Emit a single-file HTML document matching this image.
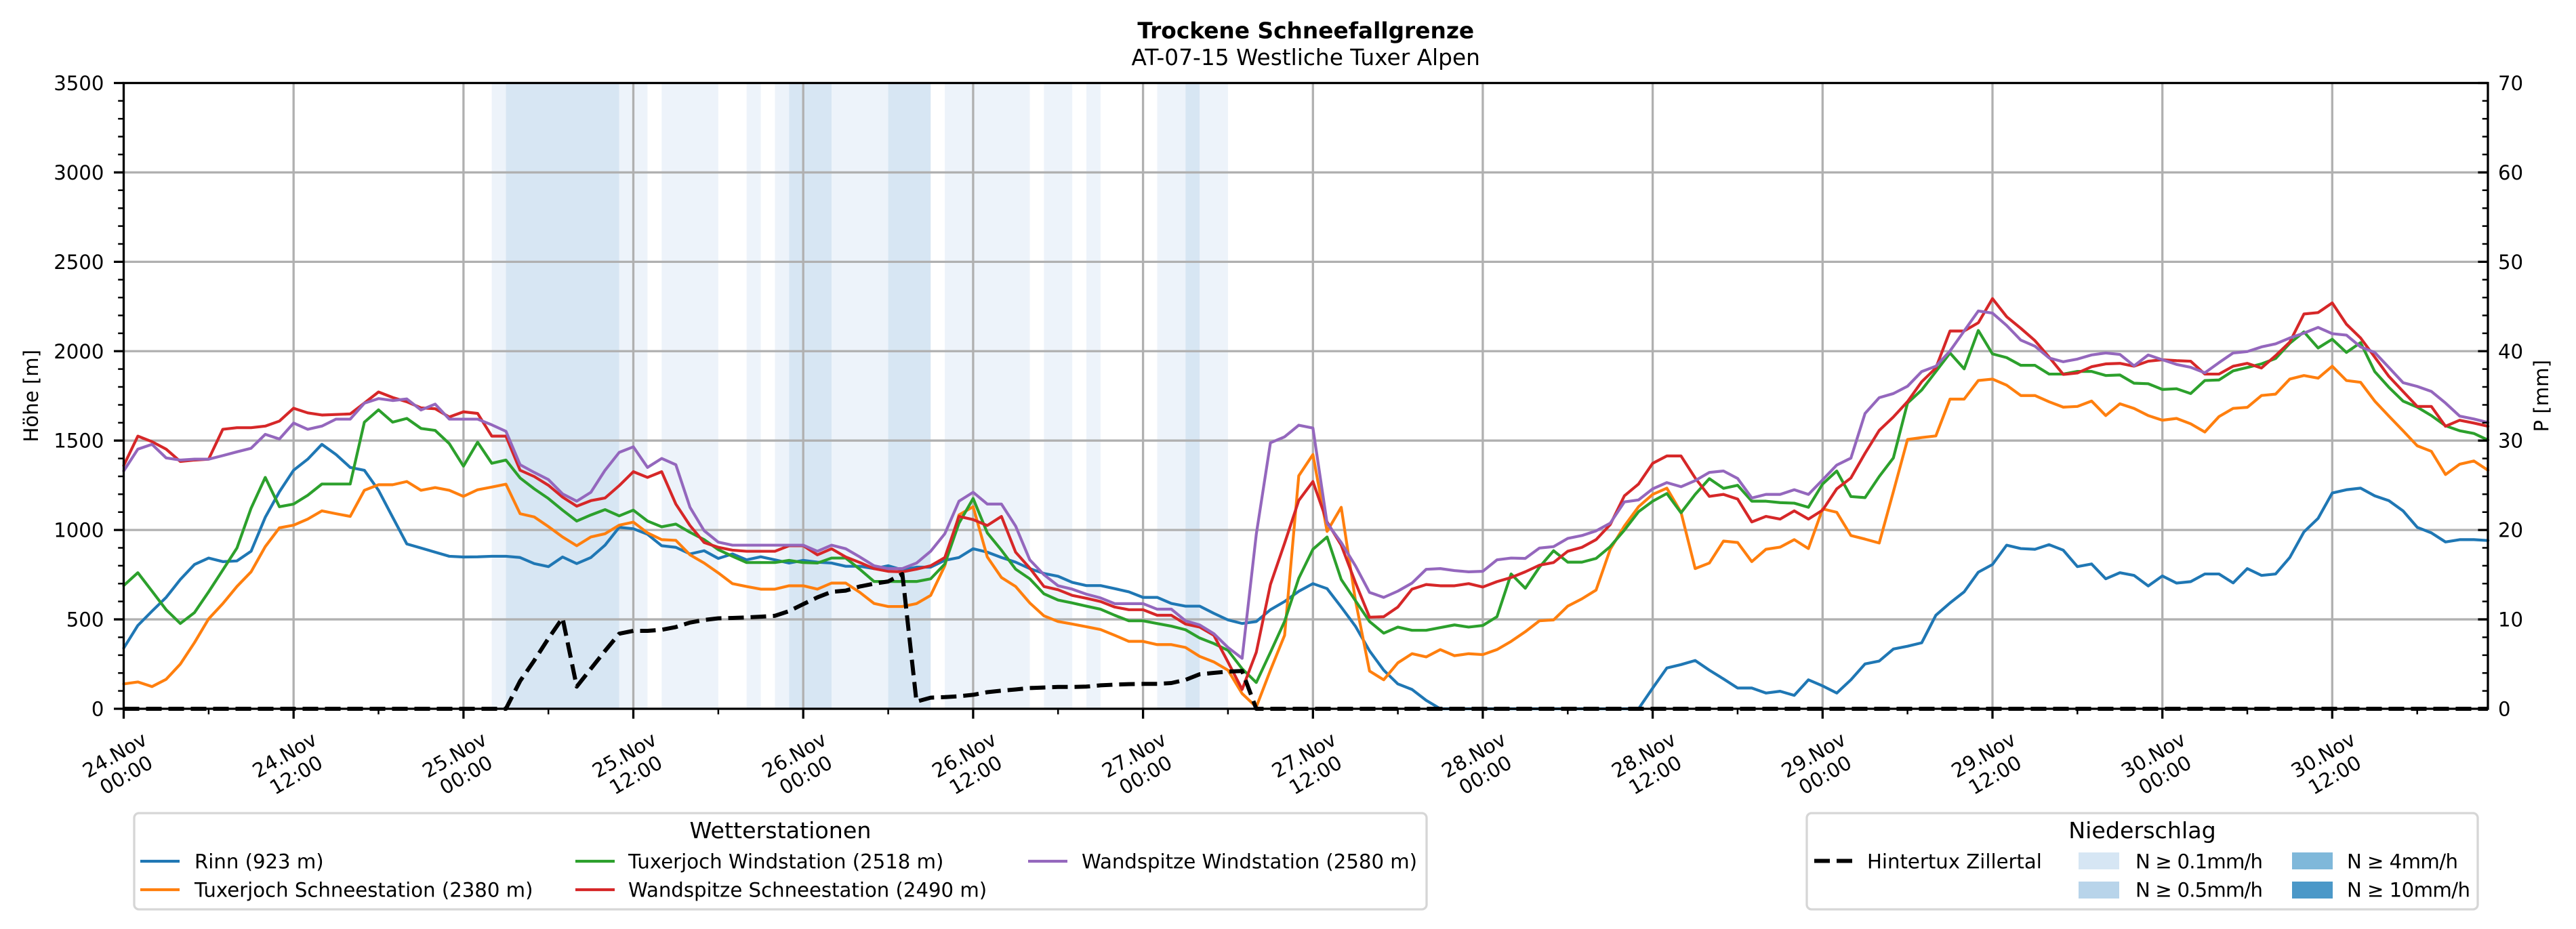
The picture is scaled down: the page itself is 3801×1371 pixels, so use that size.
<!DOCTYPE html>
<html>
<head>
<meta charset="utf-8">
<style>
html,body{margin:0;padding:0;background:#fff;}
svg{display:block;}
text{font-family:"DejaVu Sans","Liberation Sans",sans-serif;fill:#000;}
.tk{font-size:29.17px;}
.lg{font-size:29.17px;}
</style>
</head>
<body>
<svg width="3801" height="1371" viewBox="0 0 3801 1371" xmlns="http://www.w3.org/2000/svg">
<rect x="0" y="0" width="3801" height="1371" fill="#fff"/>

<!-- Title -->
<text x="1926.75" y="56.7" text-anchor="middle" font-size="32.8" font-weight="bold">Trockene Schneefallgrenze</text>
<text x="1926.75" y="96" text-anchor="middle" font-size="32.8">AT-07-15 Westliche Tuxer Alpen</text>

<!-- Precipitation bands (data coords) -->
<g transform="translate(182.5,1046) scale(20.89,-0.26386)">
  <g fill="#edf3fa">
    <rect x="26" y="0" width="1" height="3500"/>
    <rect x="35" y="0" width="2" height="3500"/>
    <rect x="38" y="0" width="4" height="3500"/>
    <rect x="44" y="0" width="1" height="3500"/>
    <rect x="46" y="0" width="1" height="3500"/>
    <rect x="50" y="0" width="4" height="3500"/>
    <rect x="58" y="0" width="6" height="3500"/>
    <rect x="65" y="0" width="2" height="3500"/>
    <rect x="68" y="0" width="1" height="3500"/>
    <rect x="73" y="0" width="2" height="3500"/>
    <rect x="76" y="0" width="2" height="3500"/>
  </g>
  <g fill="#d7e6f3">
    <rect x="27" y="0" width="8" height="3500"/>
    <rect x="47" y="0" width="3" height="3500"/>
    <rect x="54" y="0" width="3" height="3500"/>
    <rect x="75" y="0" width="1" height="3500"/>
  </g>
</g>

<!-- Grid -->
<g stroke="#b0b0b0" stroke-width="3.3" fill="none">
  <path d="M433.2,122.5V1046 M683.9,122.5V1046 M934.5,122.5V1046 M1185.2,122.5V1046 M1435.9,122.5V1046 M1686.6,122.5V1046 M1937.3,122.5V1046 M2187.9,122.5V1046 M2438.6,122.5V1046 M2689.3,122.5V1046 M2940,122.5V1046 M3190.7,122.5V1046 M3441.3,122.5V1046"/>
  <path d="M182.5,914.07H3671 M182.5,782.14H3671 M182.5,650.21H3671 M182.5,518.28H3671 M182.5,386.35H3671 M182.5,254.42H3671"/>
</g>

<!-- Data lines -->
<g transform="translate(182.5,1046) scale(20.89,-0.26386)" fill="none" stroke-width="4.2" stroke-linejoin="round" stroke-linecap="round">
<polyline vector-effect="non-scaling-stroke" stroke="#1f77b4" points="0,339 1,466 2,546 3,623 4,723 5,807 6,843 7,823 8,827 9,881 10,1071 11,1214 12,1334 13,1396 14,1479 15,1422 16,1350 17,1334 18,1222 19,1071 20,922 21,899 22,876 23,853 24,849 25,850 26,853 27,853 28,846 29,812 30,795 31,849 32,812 33,846 34,915 35,1015 36,1007 37,976 38,912 39,903 40,866 41,884 42,841 43,866 44,833 45,850 46,833 47,815 48,830 49,820 50,815 51,797 52,797 53,784 54,800 55,777 56,792 57,792 58,830 59,846 60,895 61,876 62,846 63,820 64,784 65,757 66,741 67,707 68,689 69,689 70,672 71,654 72,623 73,623 74,589 75,574 76,574 77,534 78,497 79,477 80,488 81,554 82,600 83,657 84,700 85,672 86,569 87,462 88,324 89,216 90,139 91,108 92,47 93,0 107,0 108,116 109,228 110,247 111,270 112,216 113,167 114,116 115,116 116,88 117,98 118,75 119,162 120,128 121,88 122,162 123,251 124,267 125,334 126,350 127,369 128,523 129,592 130,654 131,764 132,807 133,915 134,896 135,892 136,918 137,887 138,795 139,810 140,727 141,761 142,746 143,687 144,743 145,703 146,711 147,754 148,754 149,704 150,784 151,746 152,754 153,846 154,989 155,1065 156,1207 157,1225 158,1234 159,1191 160,1164 161,1107 162,1015 163,984 164,933 165,946 166,946 167,941"/>
<polyline vector-effect="non-scaling-stroke" stroke="#ff7f0e" points="0,139 1,150 2,124 3,165 4,250 5,370 6,503 7,588 8,684 9,766 10,907 11,1012 12,1027 13,1061 14,1107 15,1091 16,1076 17,1222 18,1253 19,1253 20,1271 21,1222 22,1237 23,1222 24,1188 25,1225 26,1240 27,1256 28,1091 29,1073 30,1019 31,961 32,912 33,961 34,979 35,1027 36,1044 37,984 38,946 39,942 40,861 41,815 42,760 43,700 44,684 45,669 46,669 47,688 48,688 49,669 50,703 51,703 52,651 53,589 54,572 55,572 56,588 57,634 58,800 59,1084 60,1130 61,849 62,734 63,684 64,592 65,520 66,488 67,474 68,459 69,443 70,411 71,377 72,377 73,359 74,359 75,343 76,293 77,262 78,216 79,85 80,10 81,216 82,411 83,1303 84,1422 85,992 86,1127 87,608 88,211 89,162 90,257 91,308 92,290 93,331 94,297 95,308 96,303 97,331 98,377 99,431 100,492 101,497 102,574 103,615 104,664 105,892 106,1022 107,1130 108,1199 109,1234 110,1099 111,784 112,815 113,938 114,930 115,823 116,892 117,904 118,946 119,896 120,1118 121,1099 122,969 123,949 124,927 125,1214 126,1506 127,1517 128,1526 129,1732 130,1732 131,1836 132,1844 133,1810 134,1752 135,1752 136,1717 137,1687 138,1691 139,1721 140,1640 141,1706 142,1680 143,1640 144,1614 145,1624 146,1594 147,1548 148,1634 149,1680 150,1686 151,1752 152,1760 153,1844 154,1864 155,1849 156,1916 157,1836 158,1826 159,1721 160,1637 161,1555 162,1471 163,1440 164,1310 165,1368 166,1386 167,1334"/>
<polyline vector-effect="non-scaling-stroke" stroke="#2ca02c" points="0,689 1,761 2,658 3,554 4,477 5,538 6,654 7,776 8,899 9,1122 10,1294 11,1130 12,1145 13,1194 14,1257 15,1257 16,1257 17,1603 18,1672 19,1603 20,1624 21,1568 22,1557 23,1483 24,1357 25,1491 26,1373 27,1391 28,1291 29,1230 30,1176 31,1111 32,1050 33,1084 34,1114 35,1079 36,1111 37,1050 38,1018 39,1033 40,987 41,946 42,890 43,853 44,818 45,818 46,818 47,830 48,818 49,815 50,843 51,843 52,780 53,712 54,712 55,712 56,712 57,727 58,810 59,1038 60,1176 61,984 62,887 63,781 64,727 65,643 66,608 67,592 68,574 69,557 70,523 71,492 72,492 73,477 74,462 75,442 76,396 77,365 78,327 79,224 80,147 81,316 82,489 83,730 84,892 85,961 86,723 87,605 88,488 89,423 90,457 91,439 92,439 93,454 94,469 95,457 96,466 97,515 98,754 99,674 100,792 101,884 102,820 103,820 104,841 105,907 106,999 107,1102 108,1161 109,1204 110,1096 111,1199 112,1287 113,1233 114,1250 115,1161 116,1161 117,1153 118,1150 119,1127 120,1257 121,1330 122,1187 123,1181 124,1299 125,1403 126,1710 127,1783 128,1886 129,1990 130,1901 131,2116 132,1985 133,1964 134,1921 135,1921 136,1872 137,1872 138,1887 139,1887 140,1864 141,1867 142,1821 143,1818 144,1786 145,1790 146,1763 147,1836 148,1839 149,1890 150,1909 151,1929 152,1959 153,2044 154,2108 155,2018 156,2067 157,1993 158,2048 159,1886 160,1798 161,1721 162,1687 163,1640 164,1583 165,1555 166,1540 167,1503"/>
<polyline vector-effect="non-scaling-stroke" stroke="#d62728" points="0,1360 1,1525 2,1494 3,1452 4,1383 5,1391 6,1396 7,1563 8,1572 9,1572 10,1581 11,1609 12,1681 13,1655 14,1643 15,1646 16,1649 17,1710 18,1772 19,1741 20,1717 21,1683 22,1678 23,1632 24,1661 25,1652 26,1525 27,1525 28,1334 29,1299 30,1250 31,1184 32,1133 33,1164 34,1179 35,1248 36,1326 37,1294 38,1326 39,1145 40,1025 41,930 42,903 43,887 44,881 45,881 46,881 47,912 48,912 49,861 50,895 51,849 52,818 53,784 54,769 55,766 56,781 57,800 58,846 59,1076 60,1058 61,1025 62,1076 63,876 64,787 65,684 66,666 67,634 68,618 69,600 70,569 71,554 72,554 73,523 74,523 75,474 76,457 77,411 78,262 79,108 80,316 81,695 82,926 83,1165 84,1271 85,1045 86,915 87,707 88,512 89,515 90,569 91,669 92,695 93,688 94,688 95,700 96,681 97,711 98,734 99,766 100,803 101,818 102,881 103,903 104,946 105,1030 106,1191 107,1257 108,1373 109,1414 110,1414 111,1291 112,1188 113,1199 114,1173 115,1045 116,1076 117,1061 118,1107 119,1061 120,1111 121,1230 122,1291 123,1429 124,1557 125,1632 126,1718 127,1829 128,1906 129,2113 130,2113 131,2159 132,2294 133,2193 134,2128 135,2059 136,1967 137,1870 138,1878 139,1913 140,1929 141,1932 142,1916 143,1944 144,1952 145,1947 146,1944 147,1872 148,1872 149,1916 150,1932 151,1906 152,1975 153,2051 154,2208 155,2216 156,2270 157,2151 158,2074 159,1967 160,1859 161,1775 162,1691 163,1691 164,1580 165,1614 166,1598 167,1580"/>
<polyline vector-effect="non-scaling-stroke" stroke="#9467bd" points="0,1330 1,1452 2,1479 3,1403 4,1391 5,1396 6,1396 7,1416 8,1437 9,1457 10,1535 11,1509 12,1598 13,1563 14,1581 15,1620 16,1620 17,1709 18,1735 19,1724 20,1733 21,1671 22,1704 23,1620 24,1620 25,1620 26,1588 27,1552 28,1365 29,1322 30,1282 31,1202 32,1161 33,1211 34,1334 35,1434 36,1465 37,1350 38,1400 39,1365 40,1127 41,996 42,932 43,915 44,915 45,915 46,915 47,915 48,915 49,881 50,915 51,895 52,849 53,800 54,784 55,784 56,815 57,881 58,979 59,1161 60,1211 61,1145 62,1145 63,1022 64,833 65,750 66,688 67,669 68,641 69,620 70,588 71,588 72,588 73,557 74,557 75,492 76,469 77,420 78,343 79,282 80,976 81,1488 82,1521 83,1586 84,1570 85,1038 86,930 87,800 88,651 89,623 90,658 91,703 92,780 93,784 94,773 95,766 96,769 97,833 98,843 99,841 100,899 101,907 102,953 103,969 104,995 105,1038 106,1157 107,1168 108,1230 109,1265 110,1242 111,1276 112,1322 113,1330 114,1288 115,1179 116,1199 117,1199 118,1225 119,1199 120,1280 121,1363 122,1402 123,1652 124,1740 125,1763 126,1804 127,1886 128,1916 129,2001 130,2113 131,2225 132,2213 133,2144 134,2062 135,2028 136,1962 137,1941 138,1956 139,1979 140,1990 141,1982 142,1918 143,1979 144,1952 145,1926 146,1910 147,1879 148,1936 149,1990 150,1998 151,2024 152,2041 153,2074 154,2101 155,2133 156,2098 157,2090 158,2024 159,1993 160,1909 161,1824 162,1803 163,1775 164,1710 165,1637 166,1621 167,1601"/>
</g>

<!-- Hintertux dashed (pixel coords) -->
<polyline fill="none" stroke="#000" stroke-width="6" stroke-dasharray="23 10" stroke-linejoin="round" points="182.5,1046 746.5,1046 767.4,1005.1 788.3,974.8 809.2,942.3 830.1,912 851,1013.3 871.9,986.9 892.8,960.5 913.7,935.2 934.5,931 955.4,931 976.3,929.4 997.2,925.4 1018.1,918.8 1039,914.9 1059.9,912.5 1080.8,912 1101.7,911.2 1122.6,910.1 1143.4,908.8 1164.3,901.9 1185.2,891.6 1206.1,881.6 1227,873.4 1247.9,871.6 1268.8,865.5 1289.7,861.3 1310.6,858.1 1331.5,847.1 1352.3,1035.4 1373.2,1029.6 1394.1,1028.8 1415,1027.5 1435.9,1025.4 1456.8,1021.5 1477.7,1019.3 1498.6,1017.5 1519.5,1015.4 1540.4,1014.6 1561.2,1013.8 1582.1,1013.8 1603,1013.3 1623.9,1011.4 1644.8,1010.4 1665.7,1009.6 1686.6,1009.3 1707.5,1009.3 1728.4,1008 1749.3,1003.3 1770.1,995.1 1791,993 1811.9,991.1 1832.8,990.3 1853.7,1046 3671,1046"/>

<!-- Spines -->
<rect x="182.5" y="122.5" width="3488.5" height="923.5" fill="none" stroke="#000" stroke-width="3.3"/>

<!-- Ticks -->
<g stroke="#000" fill="none">
  <path stroke-width="3.3" d="M168,1046H182.5 M168,914.07H182.5 M168,782.14H182.5 M168,650.21H182.5 M168,518.28H182.5 M168,386.35H182.5 M168,254.42H182.5 M168,122.5H182.5"/>
  <path stroke-width="2.5" d="M174.2,1019.61H182.5 M174.2,993.23H182.5 M174.2,966.84H182.5 M174.2,940.46H182.5 M174.2,887.68H182.5 M174.2,861.3H182.5 M174.2,834.91H182.5 M174.2,808.53H182.5 M174.2,755.75H182.5 M174.2,729.37H182.5 M174.2,702.98H182.5 M174.2,676.6H182.5 M174.2,623.82H182.5 M174.2,597.44H182.5 M174.2,571.05H182.5 M174.2,544.67H182.5 M174.2,491.89H182.5 M174.2,465.51H182.5 M174.2,439.12H182.5 M174.2,412.74H182.5 M174.2,359.96H182.5 M174.2,333.58H182.5 M174.2,307.19H182.5 M174.2,280.81H182.5 M174.2,228.03H182.5 M174.2,201.65H182.5 M174.2,175.26H182.5 M174.2,148.88H182.5"/>
  <path stroke-width="3.3" d="M3656.4,1046H3671 M3656.4,914.07H3671 M3656.4,782.14H3671 M3656.4,650.21H3671 M3656.4,518.28H3671 M3656.4,386.35H3671 M3656.4,254.42H3671 M3656.4,122.5H3671"/>
  <path stroke-width="2.5" d="M3662.7,1019.61H3671 M3662.7,993.23H3671 M3662.7,966.84H3671 M3662.7,940.46H3671 M3662.7,887.68H3671 M3662.7,861.3H3671 M3662.7,834.91H3671 M3662.7,808.53H3671 M3662.7,755.75H3671 M3662.7,729.37H3671 M3662.7,702.98H3671 M3662.7,676.6H3671 M3662.7,623.82H3671 M3662.7,597.44H3671 M3662.7,571.05H3671 M3662.7,544.67H3671 M3662.7,491.89H3671 M3662.7,465.51H3671 M3662.7,439.12H3671 M3662.7,412.74H3671 M3662.7,359.96H3671 M3662.7,333.58H3671 M3662.7,307.19H3671 M3662.7,280.81H3671 M3662.7,228.03H3671 M3662.7,201.65H3671 M3662.7,175.26H3671 M3662.7,148.88H3671"/>
  <path stroke-width="3.3" d="M182.5,1046V1060.6 M433.2,1046V1060.6 M683.9,1046V1060.6 M934.5,1046V1060.6 M1185.2,1046V1060.6 M1435.9,1046V1060.6 M1686.6,1046V1060.6 M1937.3,1046V1060.6 M2187.9,1046V1060.6 M2438.6,1046V1060.6 M2689.3,1046V1060.6 M2940,1046V1060.6 M3190.7,1046V1060.6 M3441.3,1046V1060.6"/>
  <path stroke-width="2.5" d="M307.9,1046V1054.3 M558.5,1046V1054.3 M809.2,1046V1054.3 M1059.9,1046V1054.3 M1310.6,1046V1054.3 M1561.2,1046V1054.3 M1811.9,1046V1054.3 M2062.6,1046V1054.3 M2313.3,1046V1054.3 M2563.9,1046V1054.3 M2814.6,1046V1054.3 M3065.3,1046V1054.3 M3316,1046V1054.3 M3566.7,1046V1054.3"/>
</g>

<!-- Left tick labels -->
<g class="tk" text-anchor="end">
  <text x="153.4" y="1056.5">0</text>
  <text x="153.4" y="924.6">500</text>
  <text x="153.4" y="792.6">1000</text>
  <text x="153.4" y="660.7">1500</text>
  <text x="153.4" y="528.8">2000</text>
  <text x="153.4" y="396.9">2500</text>
  <text x="153.4" y="264.9">3000</text>
  <text x="153.4" y="133">3500</text>
</g>
<!-- Right tick labels -->
<g class="tk" text-anchor="start">
  <text x="3686" y="1056.5">0</text>
  <text x="3686" y="924.6">10</text>
  <text x="3686" y="792.6">20</text>
  <text x="3686" y="660.7">30</text>
  <text x="3686" y="528.8">40</text>
  <text x="3686" y="396.9">50</text>
  <text x="3686" y="264.9">60</text>
  <text x="3686" y="133">70</text>
</g>

<!-- Axis labels -->
<text class="tk" transform="translate(56,584.25) rotate(-90)" text-anchor="middle">Höhe [m]</text>
<text class="tk" transform="translate(3760,584.25) rotate(-90)" text-anchor="middle">P [mm]</text>

<!-- X tick labels -->
<g class="tk" text-anchor="middle">
  <g transform="translate(177.5,1128.5) rotate(-30)"><text><tspan x="0" y="-6.35">24.Nov</tspan><tspan x="0" y="27.65">00:00</tspan></text></g>
  <g transform="translate(428.2,1128.5) rotate(-30)"><text><tspan x="0" y="-6.35">24.Nov</tspan><tspan x="0" y="27.65">12:00</tspan></text></g>
  <g transform="translate(678.9,1128.5) rotate(-30)"><text><tspan x="0" y="-6.35">25.Nov</tspan><tspan x="0" y="27.65">00:00</tspan></text></g>
  <g transform="translate(929.5,1128.5) rotate(-30)"><text><tspan x="0" y="-6.35">25.Nov</tspan><tspan x="0" y="27.65">12:00</tspan></text></g>
  <g transform="translate(1180.2,1128.5) rotate(-30)"><text><tspan x="0" y="-6.35">26.Nov</tspan><tspan x="0" y="27.65">00:00</tspan></text></g>
  <g transform="translate(1430.9,1128.5) rotate(-30)"><text><tspan x="0" y="-6.35">26.Nov</tspan><tspan x="0" y="27.65">12:00</tspan></text></g>
  <g transform="translate(1681.6,1128.5) rotate(-30)"><text><tspan x="0" y="-6.35">27.Nov</tspan><tspan x="0" y="27.65">00:00</tspan></text></g>
  <g transform="translate(1932.3,1128.5) rotate(-30)"><text><tspan x="0" y="-6.35">27.Nov</tspan><tspan x="0" y="27.65">12:00</tspan></text></g>
  <g transform="translate(2182.9,1128.5) rotate(-30)"><text><tspan x="0" y="-6.35">28.Nov</tspan><tspan x="0" y="27.65">00:00</tspan></text></g>
  <g transform="translate(2433.6,1128.5) rotate(-30)"><text><tspan x="0" y="-6.35">28.Nov</tspan><tspan x="0" y="27.65">12:00</tspan></text></g>
  <g transform="translate(2684.3,1128.5) rotate(-30)"><text><tspan x="0" y="-6.35">29.Nov</tspan><tspan x="0" y="27.65">00:00</tspan></text></g>
  <g transform="translate(2935,1128.5) rotate(-30)"><text><tspan x="0" y="-6.35">29.Nov</tspan><tspan x="0" y="27.65">12:00</tspan></text></g>
  <g transform="translate(3185.7,1128.5) rotate(-30)"><text><tspan x="0" y="-6.35">30.Nov</tspan><tspan x="0" y="27.65">00:00</tspan></text></g>
  <g transform="translate(3436.3,1128.5) rotate(-30)"><text><tspan x="0" y="-6.35">30.Nov</tspan><tspan x="0" y="27.65">12:00</tspan></text></g>
</g>

<!-- Legend: Wetterstationen -->
<rect x="198" y="1200" width="1907" height="142" rx="7" ry="7" fill="#fff" stroke="#d6d6d6" stroke-width="3.3"/>
<text x="1151.5" y="1237" text-anchor="middle" font-size="33.3">Wetterstationen</text>
<g stroke-width="4.2" fill="none">
  <line x1="207" y1="1271" x2="265" y2="1271" stroke="#1f77b4"/>
  <line x1="207" y1="1313" x2="265" y2="1313" stroke="#ff7f0e"/>
  <line x1="849" y1="1271" x2="907" y2="1271" stroke="#2ca02c"/>
  <line x1="849" y1="1313" x2="907" y2="1313" stroke="#d62728"/>
  <line x1="1517" y1="1271" x2="1575" y2="1271" stroke="#9467bd"/>
</g>
<g class="lg">
  <text x="287" y="1281.6">Rinn (923 m)</text>
  <text x="287" y="1323.6">Tuxerjoch Schneestation (2380 m)</text>
  <text x="927" y="1281.6">Tuxerjoch Windstation (2518 m)</text>
  <text x="927" y="1323.6">Wandspitze Schneestation (2490 m)</text>
  <text x="1596" y="1281.6">Wandspitze Windstation (2580 m)</text>
</g>

<!-- Legend: Niederschlag -->
<rect x="2666" y="1200" width="990" height="142" rx="7" ry="7" fill="#fff" stroke="#d6d6d6" stroke-width="3.3"/>
<text x="3161" y="1237" text-anchor="middle" font-size="33.3">Niederschlag</text>
<line x1="2677" y1="1270.5" x2="2733" y2="1270.5" stroke="#000" stroke-width="6" stroke-dasharray="23 10"/>
<text class="lg" x="2755" y="1281.6">Hintertux Zillertal</text>
<rect x="3067" y="1258" width="60" height="25" fill="#d6e6f4"/>
<rect x="3067" y="1301" width="60" height="25" fill="#b8d4ea"/>
<rect x="3382" y="1258" width="60" height="25" fill="#7fb8da"/>
<rect x="3382" y="1301" width="60" height="25" fill="#4b98c8"/>
<g class="lg">
  <text x="3151" y="1281.6" textLength="188">N ≥ 0.1mm/h</text>
  <text x="3151" y="1323.6" textLength="188">N ≥ 0.5mm/h</text>
  <text x="3463" y="1281.6" textLength="164">N ≥ 4mm/h</text>
  <text x="3463" y="1323.6" textLength="182">N ≥ 10mm/h</text>
</g>
</svg>
</body>
</html>
